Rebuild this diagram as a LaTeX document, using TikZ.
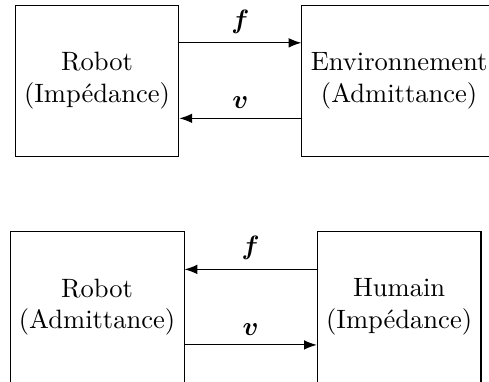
\documentclass[tikz,border=0pt]{standalone}
\usepackage{amsmath, amssymb}
\usepackage{tikz}
\usetikzlibrary{arrows.meta,calc,positioning}

\begin{document}
\begin{tikzpicture}[
      node distance=4cm,
      on grid,
      block/.style={rectangle,draw,minimum height=2cm,align=center},
      >=Latex
    ]
    \useasboundingbox (-1.285,-3.985) rectangle (5.19,1.067);

    % Impedance robot against environment
    \node[block] (R1) {Robot\\(Impédance)};
    \node[block,right=of R1] (E) {Environnement\\(Admittance)};

    \draw[->] ($(R1.east) + (0,0.5cm)$) -- node[above]{$\boldsymbol{f}$} ($(E.west) + (0,0.5cm)$);
    \draw[->] ($(E.west) + (0,-0.5cm)$) -- node[above]{$\boldsymbol{v}$} ($(R1.east) + (0,-0.5cm)$);

    % Admittance robot against human
    \node[block,below=3cm of R1] (R2) {Robot\\(Admittance)};
    \node[block,right=of R2] (H) {Humain\\(Impédance)};

    \draw[->] ($(H.west) + (0,0.5cm)$) -- node[above]{$\boldsymbol{f}$} ($(R2.east) + (0,0.5cm)$);
    \draw[->] ($(R2.east) + (0,-0.5cm)$) -- node[above]{$\boldsymbol{v}$} ($(H.west) + (0,-0.5cm)$);

  \end{tikzpicture}
\end{document}
